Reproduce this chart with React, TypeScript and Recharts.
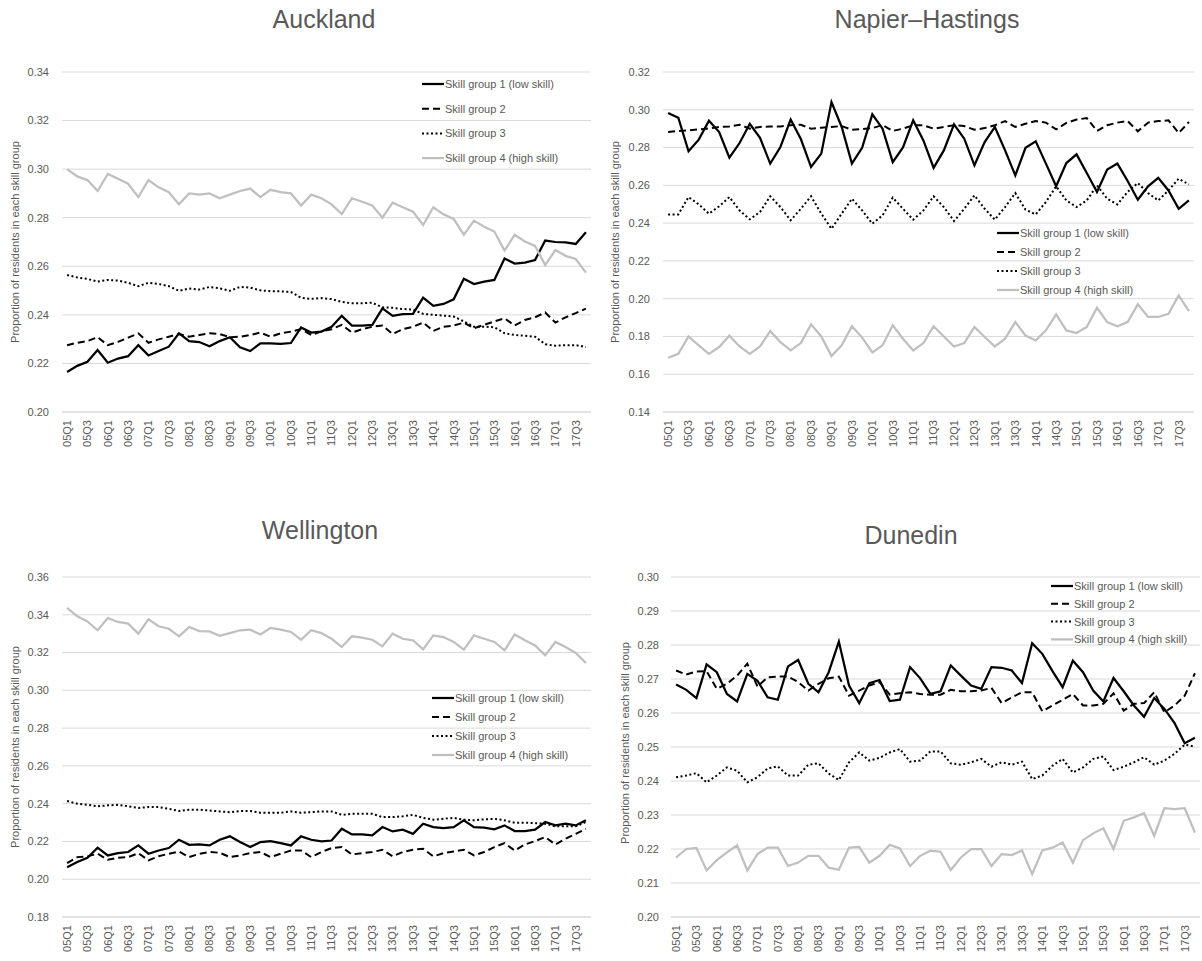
import React from 'react';
import { LineChart, Line, XAxis, YAxis, CartesianGrid } from 'recharts';

const quarters = [
  '05Q1','05Q2','05Q3','05Q4','06Q1','06Q2','06Q3','06Q4','07Q1','07Q2','07Q3','07Q4',
  '08Q1','08Q2','08Q3','08Q4','09Q1','09Q2','09Q3','09Q4','10Q1','10Q2','10Q3','10Q4',
  '11Q1','11Q2','11Q3','11Q4','12Q1','12Q2','12Q3','12Q4','13Q1','13Q2','13Q3','13Q4',
  '14Q1','14Q2','14Q3','14Q4','15Q1','15Q2','15Q3','15Q4','16Q1','16Q2','16Q3','16Q4',
  '17Q1','17Q2','17Q3','17Q4',
];

const seriesNames = ['Skill group 1 (low skill)', 'Skill group 2', 'Skill group 3', 'Skill group 4 (high skill)'];
const yAxisTitle = 'Proportion of residents in each skill group';

// Auckland
const aucklandG1 = [0.2165,0.219,0.2207,0.2255,0.2203,0.222,0.223,0.2275,0.2233,0.2251,0.2269,0.2324,0.2292,0.2288,0.2271,0.2292,0.2308,0.2266,0.2251,0.2283,0.2283,0.2281,0.2284,0.2348,0.2327,0.2331,0.2351,0.2396,0.2356,0.2356,0.2359,0.2427,0.2396,0.2403,0.2404,0.2471,0.2437,0.2445,0.2464,0.2549,0.2527,0.2537,0.2544,0.2632,0.2611,0.2615,0.2626,0.2706,0.27,0.2698,0.2692,0.274];
const aucklandG2 = [0.2275,0.2285,0.2292,0.2308,0.2275,0.2289,0.2306,0.2324,0.2285,0.2299,0.231,0.2321,0.231,0.2317,0.2324,0.2321,0.2308,0.231,0.2317,0.2327,0.231,0.2324,0.2331,0.2341,0.2317,0.2332,0.2341,0.2359,0.2327,0.2341,0.2351,0.2356,0.2321,0.2341,0.2351,0.2368,0.2334,0.2351,0.2356,0.2368,0.2345,0.2359,0.2373,0.2386,0.2356,0.2379,0.239,0.241,0.2368,0.239,0.2407,0.2426];
const aucklandG3 = [0.2564,0.2554,0.2548,0.2537,0.2544,0.2541,0.2532,0.2518,0.2532,0.2527,0.2518,0.2499,0.2509,0.2504,0.2515,0.2509,0.2499,0.2515,0.2512,0.2501,0.2497,0.2497,0.2494,0.247,0.2466,0.2469,0.2465,0.2453,0.2448,0.2448,0.245,0.2431,0.2429,0.2424,0.2422,0.2404,0.24,0.2397,0.2393,0.2373,0.2351,0.2351,0.2349,0.2324,0.2317,0.2314,0.231,0.2279,0.2273,0.2275,0.2275,0.2268];
const aucklandG4 = [0.3,0.297,0.2955,0.291,0.298,0.296,0.294,0.2885,0.2955,0.2925,0.2905,0.2855,0.29,0.2895,0.29,0.288,0.2895,0.291,0.292,0.2885,0.2915,0.2905,0.29,0.285,0.2895,0.288,0.2855,0.2815,0.288,0.2866,0.285,0.28,0.2862,0.2843,0.2825,0.277,0.2843,0.2814,0.2795,0.273,0.2788,0.2763,0.2743,0.2665,0.273,0.2702,0.2684,0.2605,0.2667,0.2643,0.263,0.2574];
const aucklandTicks = [0.2, 0.22, 0.24, 0.26, 0.28, 0.3, 0.32, 0.34];

// Napier–Hastings
const napierG1 = [0.2983,0.2958,0.278,0.2842,0.2942,0.2882,0.2746,0.2824,0.2926,0.2852,0.2715,0.2803,0.2948,0.2845,0.2697,0.2768,0.3041,0.2909,0.2715,0.2799,0.2976,0.29,0.2723,0.2801,0.2944,0.2838,0.2693,0.2785,0.2923,0.2847,0.2706,0.2829,0.2909,0.2785,0.2653,0.2799,0.2833,0.2715,0.2595,0.2718,0.2764,0.2665,0.2565,0.2683,0.2715,0.2623,0.2524,0.2595,0.264,0.2573,0.2476,0.252];
const napierG2 = [0.2882,0.2888,0.2891,0.2896,0.2902,0.2909,0.2912,0.2921,0.29,0.2909,0.2912,0.2912,0.2918,0.2921,0.29,0.2905,0.2909,0.2914,0.2894,0.2898,0.2903,0.2919,0.2888,0.29,0.2918,0.2918,0.29,0.2909,0.2918,0.2914,0.2894,0.2903,0.2918,0.294,0.2909,0.2926,0.294,0.2932,0.2896,0.293,0.2948,0.2956,0.2888,0.2918,0.2932,0.294,0.2886,0.2932,0.294,0.2944,0.2877,0.2935];
const napierG3 = [0.2446,0.2446,0.2538,0.2499,0.245,0.2489,0.2538,0.2467,0.242,0.2459,0.2542,0.2485,0.2415,0.2476,0.2542,0.245,0.237,0.245,0.2529,0.2467,0.2397,0.2441,0.2535,0.2476,0.2418,0.2467,0.2542,0.2485,0.2411,0.2476,0.2547,0.2476,0.2418,0.2485,0.2559,0.2471,0.2446,0.2512,0.2595,0.252,0.2485,0.252,0.26,0.2529,0.2499,0.2565,0.2612,0.2559,0.252,0.2573,0.2635,0.2605];
const napierG4 = [0.1687,0.1708,0.18,0.1753,0.1708,0.1744,0.1804,0.1747,0.1708,0.1747,0.1828,0.177,0.1726,0.1765,0.1864,0.18,0.1696,0.1753,0.1854,0.1794,0.1715,0.1753,0.1859,0.1788,0.1726,0.1765,0.1854,0.18,0.1747,0.1765,0.185,0.1797,0.1747,0.1788,0.1876,0.1805,0.1779,0.1832,0.1917,0.1832,0.1818,0.185,0.1952,0.1876,0.1854,0.1876,0.197,0.1903,0.1903,0.192,0.2017,0.1934];
const napierTicks = [0.14, 0.16, 0.18, 0.2, 0.22, 0.24, 0.26, 0.28, 0.3, 0.32];

// Wellington
const wellingtonG1 = [0.2064,0.2091,0.2114,0.2167,0.2126,0.2138,0.2144,0.2179,0.2135,0.2152,0.2165,0.2209,0.2182,0.2184,0.2179,0.2209,0.2227,0.2197,0.217,0.2197,0.2202,0.2191,0.2179,0.2227,0.2209,0.2201,0.2205,0.2267,0.2237,0.2237,0.2232,0.2276,0.2253,0.2262,0.224,0.2294,0.2276,0.2271,0.2276,0.2312,0.2276,0.2273,0.2264,0.2285,0.2255,0.2255,0.2262,0.2303,0.2285,0.2294,0.2285,0.2312];
const wellingtonG2 = [0.2085,0.2117,0.2121,0.2135,0.2103,0.2114,0.2117,0.2138,0.21,0.2122,0.2135,0.2147,0.2117,0.2135,0.2144,0.214,0.2117,0.2126,0.2138,0.2144,0.2117,0.2135,0.2152,0.2152,0.2117,0.2144,0.2165,0.217,0.2131,0.2138,0.2144,0.2156,0.2121,0.2144,0.2156,0.2161,0.2121,0.2138,0.2147,0.2156,0.2126,0.2144,0.217,0.2191,0.2152,0.2184,0.2202,0.2223,0.2184,0.2214,0.224,0.2267];
const wellingtonG3 = [0.2414,0.24,0.2394,0.2386,0.2391,0.2394,0.2386,0.2377,0.2382,0.2382,0.2373,0.2361,0.2368,0.2368,0.2364,0.2359,0.2355,0.2361,0.2361,0.2352,0.2352,0.2352,0.2359,0.2352,0.2355,0.2359,0.2359,0.2341,0.2346,0.2346,0.2346,0.2329,0.2329,0.2333,0.2341,0.2325,0.2315,0.232,0.2325,0.2315,0.2312,0.2317,0.232,0.2312,0.2299,0.2299,0.2297,0.2294,0.228,0.228,0.228,0.2303];
const wellingtonG4 = [0.3436,0.3392,0.3365,0.3318,0.3383,0.3362,0.3353,0.33,0.3376,0.3339,0.3326,0.3286,0.3335,0.3314,0.3312,0.3289,0.3303,0.3318,0.3321,0.3296,0.333,0.3321,0.3309,0.3268,0.3318,0.3303,0.3273,0.3229,0.3286,0.3279,0.3268,0.3233,0.33,0.3273,0.3265,0.3217,0.3291,0.3282,0.3256,0.3215,0.3291,0.3273,0.3256,0.3212,0.3296,0.3265,0.3238,0.3185,0.3256,0.3229,0.3198,0.3145];
const wellingtonTicks = [0.18, 0.2, 0.22, 0.24, 0.26, 0.28, 0.3, 0.32, 0.34, 0.36];

// Dunedin
const dunedinG1 = [0.2684,0.2668,0.2644,0.2743,0.272,0.2656,0.2634,0.2715,0.2695,0.2646,0.2639,0.2737,0.2756,0.2686,0.2661,0.272,0.281,0.2681,0.2629,0.2688,0.2697,0.2635,0.2639,0.2735,0.2702,0.2656,0.2664,0.274,0.271,0.2681,0.2671,0.2735,0.2733,0.2725,0.2688,0.2805,0.2774,0.2723,0.2676,0.2754,0.272,0.2666,0.2634,0.2703,0.2664,0.2622,0.2589,0.2644,0.2612,0.257,0.2511,0.2527];
const dunedinG2 = [0.2725,0.2713,0.2722,0.2723,0.2671,0.2686,0.271,0.2745,0.2678,0.2705,0.2707,0.2707,0.2691,0.2666,0.2686,0.2702,0.2707,0.2651,0.2666,0.2681,0.2691,0.2654,0.2658,0.2661,0.2656,0.2654,0.2654,0.2668,0.2664,0.2664,0.2666,0.2674,0.2629,0.2646,0.2661,0.2661,0.2605,0.2622,0.2639,0.2656,0.2622,0.2622,0.2627,0.2658,0.2607,0.2627,0.2629,0.2661,0.2602,0.2622,0.2651,0.2717];
const dunedinG3 = [0.2411,0.2416,0.2423,0.2396,0.2416,0.244,0.243,0.2396,0.2411,0.2437,0.2443,0.2416,0.2416,0.2448,0.2452,0.2422,0.2403,0.2455,0.2484,0.246,0.2468,0.2484,0.2494,0.2457,0.246,0.2487,0.2487,0.2452,0.2448,0.2455,0.2465,0.2442,0.2455,0.2448,0.2457,0.2406,0.2416,0.2445,0.2465,0.2425,0.244,0.2465,0.2472,0.2432,0.2442,0.2455,0.247,0.2448,0.246,0.248,0.2507,0.2501];
const dunedinG4 = [0.2175,0.22,0.2203,0.2137,0.2167,0.219,0.2211,0.2137,0.2185,0.2204,0.2204,0.215,0.216,0.218,0.218,0.2145,0.2139,0.2204,0.2206,0.216,0.218,0.2212,0.2202,0.215,0.218,0.2195,0.2192,0.2138,0.2175,0.22,0.22,0.215,0.2185,0.2182,0.2196,0.2126,0.2196,0.2204,0.2219,0.216,0.2226,0.2246,0.2261,0.22,0.2283,0.2293,0.2305,0.2239,0.232,0.2317,0.232,0.2248];
const dunedinTicks = [0.2, 0.21, 0.22, 0.23, 0.24, 0.25, 0.26, 0.27, 0.28, 0.29, 0.3];

const FONT = '"Liberation Sans", Arial, sans-serif';
const TEXT = '#595959';

const SERIES = [
  { key: 'g1', color: '#000000', width: 2.25, dash: undefined as string | undefined },
  { key: 'g2', color: '#000000', width: 2, dash: '7 4' },
  { key: 'g3', color: '#000000', width: 2, dash: '2 2.5' },
  { key: 'g4', color: '#BFBFBF', width: 2.25, dash: undefined as string | undefined },
];

const XTick = (props: any) => {
  const { x, y, payload } = props;
  return (
    <text
      x={x}
      y={y}
      dy="0.35em"
      transform={`rotate(-90, ${x}, ${y})`}
      textAnchor="end"
      fontSize={11}
      fill={TEXT}
      fontFamily={FONT}
    >
      {payload.value}
    </text>
  );
};

type PanelProps = {
  title: string;
  series: number[][];
  ticks: number[];
  left: number;
  top: number;
  width: number;
  height: number;
  mTop: number;
  mRight: number;
  yW: number;
  tickMargin: number;
  yLabelX: number;
  yLabelY: number;
  titleX: number;
  titleY: number;
  legX: number;
  legY: number;
  legStep: number;
};

const Panel = (p: PanelProps) => {
  const rows = quarters.map((q, i) => ({
    q,
    g1: p.series[0][i],
    g2: p.series[1][i],
    g3: p.series[2][i],
    g4: p.series[3][i],
  }));
  return (
    <div style={{ position: 'absolute', left: p.left, top: p.top, width: p.width, height: p.height }}>
      <LineChart
        width={p.width}
        height={p.height}
        data={rows}
        margin={{ top: p.mTop, right: p.mRight, left: 0, bottom: 0 }}
      >
        <CartesianGrid vertical={false} stroke="#D9D9D9" strokeWidth={1} />
        <XAxis
          dataKey="q"
          scale="band"
          interval={1}
          tickLine={false}
          axisLine={{ stroke: '#D9D9D9' }}
          tick={<XTick />}
          height={p.height - p.mTop - 340}
        />
        <YAxis
          type="number"
          domain={[p.ticks[0], p.ticks[p.ticks.length - 1]]}
          ticks={p.ticks}
          interval={0}
          width={p.yW}
          axisLine={false}
          tickLine={false}
          tickMargin={p.tickMargin}
          tickFormatter={(v: number) => v.toFixed(2)}
          tick={{ fontSize: 11, fill: TEXT, fontFamily: FONT }}
        />
        {SERIES.map((s) => (
          <Line
            key={s.key}
            dataKey={s.key}
            type="linear"
            stroke={s.color}
            strokeWidth={s.width}
            strokeDasharray={s.dash}
            dot={false}
            activeDot={false}
            isAnimationActive={false}
          />
        ))}
      </LineChart>
      <svg
        width={p.width}
        height={p.height}
        style={{ position: 'absolute', left: 0, top: 0, pointerEvents: 'none' }}
      >
        <text x={p.titleX} y={p.titleY} textAnchor="middle" fontSize={25} fill={TEXT} fontFamily={FONT}>
          {p.title}
        </text>
        <text
          x={p.yLabelX}
          y={p.yLabelY}
          transform={`rotate(-90, ${p.yLabelX}, ${p.yLabelY})`}
          textAnchor="middle"
          dominantBaseline="central"
          fontSize={11}
          fill={TEXT}
          fontFamily={FONT}
        >
          {yAxisTitle}
        </text>
        {SERIES.map((s, i) => {
          const y = p.legY + i * p.legStep;
          return (
            <g key={s.key}>
              <line
                x1={p.legX}
                x2={p.legX + 22}
                y1={y}
                y2={y}
                stroke={s.color}
                strokeWidth={s.width}
                strokeDasharray={s.dash}
              />
              <text
                x={p.legX + 23}
                y={y}
                dominantBaseline="central"
                fontSize={11}
                fill={TEXT}
                fontFamily={FONT}
              >
                {seriesNames[i]}
              </text>
            </g>
          );
        })}
      </svg>
    </div>
  );
};

export default function App() {
  return (
    <div style={{ position: 'absolute', left: 0, top: 0, width: 1202, height: 961, overflow: 'hidden', background: '#fff' }}>
      <Panel
        title="Auckland"
        series={[aucklandG1, aucklandG2, aucklandG3, aucklandG4]}
        ticks={aucklandTicks}
        left={0} top={0} width={600} height={470}
        mTop={72} mRight={9} yW={62} tickMargin={7}
        yLabelX={15} yLabelY={242}
        titleX={324} titleY={28}
        legX={422} legY={84} legStep={24.7}
      />
      <Panel
        title="Napier–Hastings"
        series={[napierG1, napierG2, napierG3, napierG4]}
        ticks={napierTicks}
        left={600} top={0} width={602} height={470}
        mTop={72} mRight={8} yW={63} tickMargin={7}
        yLabelX={15} yLabelY={242}
        titleX={327} titleY={28}
        legX={397} legY={233} legStep={19}
      />
      <Panel
        title="Wellington"
        series={[wellingtonG1, wellingtonG2, wellingtonG3, wellingtonG4]}
        ticks={wellingtonTicks}
        left={0} top={500} width={600} height={461}
        mTop={77} mRight={9} yW={62} tickMargin={7}
        yLabelX={15} yLabelY={247}
        titleX={320} titleY={39}
        legX={432} legY={198} legStep={19}
      />
      <Panel
        title="Dunedin"
        series={[dunedinG1, dunedinG2, dunedinG3, dunedinG4]}
        ticks={dunedinTicks}
        left={600} top={500} width={602} height={461}
        mTop={77} mRight={2} yW={71} tickMargin={6}
        yLabelX={25} yLabelY={243}
        titleX={311} titleY={44}
        legX={451} legY={86} legStep={17.8}
      />
    </div>
  );
}
